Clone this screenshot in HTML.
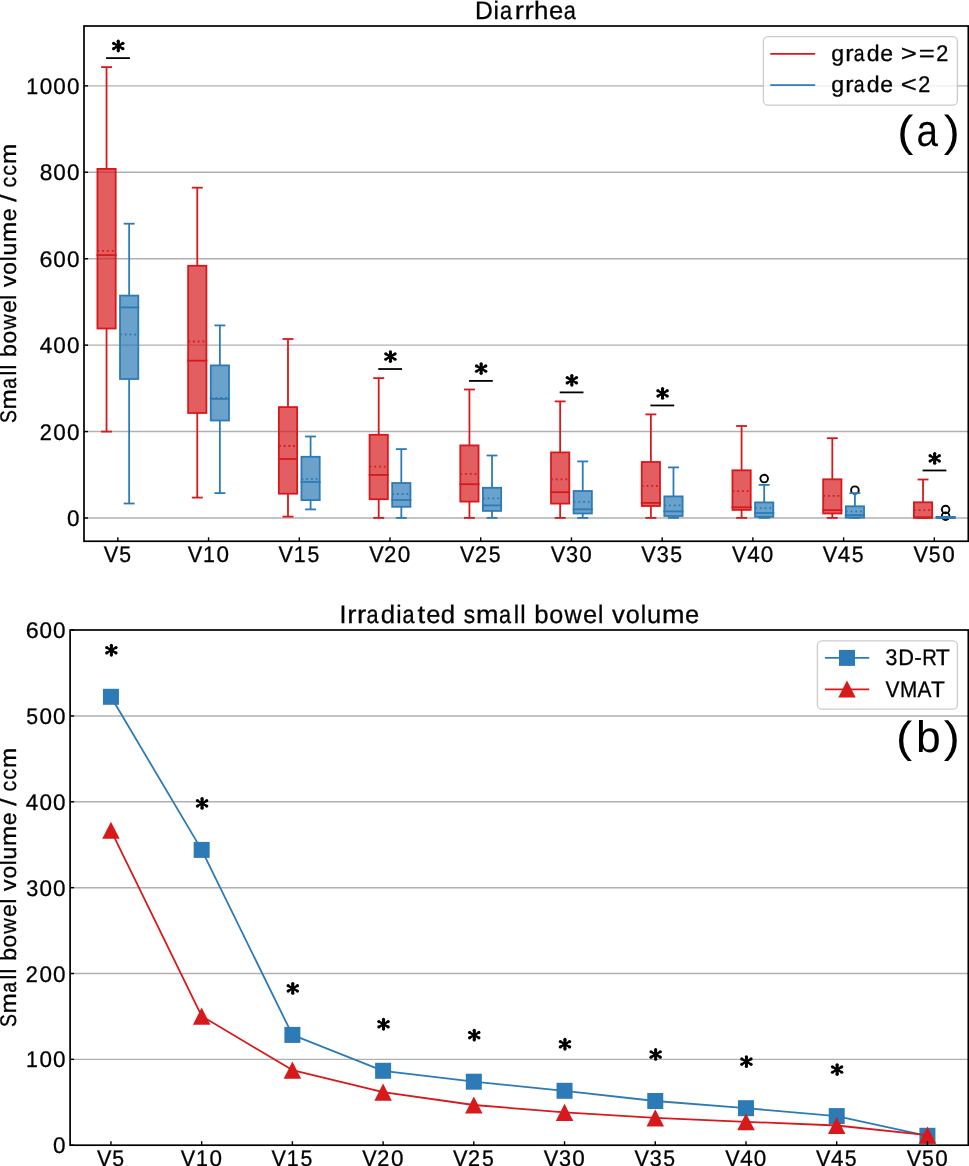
<!DOCTYPE html>
<html><head><meta charset="utf-8"><title>Small bowel volume</title>
<style>
html,body{margin:0;padding:0;background:#fff;}
svg{display:block;}
svg text{font-family:"Liberation Sans",sans-serif;fill:#000;stroke:#000;stroke-width:0.3px;text-rendering:geometricPrecision;}
svg{will-change:transform;}
svg text.big{stroke:none;}
</style></head>
<body>
<svg width="969" height="1166" viewBox="0 0 969 1166">
<rect width="969" height="1166" fill="#fff"/>
<line x1="84" y1="518" x2="968.3" y2="518" stroke="#b0b0b0" stroke-width="1.45"/>
<line x1="84" y1="431.57" x2="968.3" y2="431.57" stroke="#b0b0b0" stroke-width="1.45"/>
<line x1="84" y1="345.14" x2="968.3" y2="345.14" stroke="#b0b0b0" stroke-width="1.45"/>
<line x1="84" y1="258.71" x2="968.3" y2="258.71" stroke="#b0b0b0" stroke-width="1.45"/>
<line x1="84" y1="172.28" x2="968.3" y2="172.28" stroke="#b0b0b0" stroke-width="1.45"/>
<line x1="84" y1="85.85" x2="968.3" y2="85.85" stroke="#b0b0b0" stroke-width="1.45"/>
<rect x="97.42" y="168.9" width="18.26" height="159.6" fill="#d7191c" fill-opacity="0.7" stroke="#d7191c" stroke-width="1.8"/>
<line x1="106.55" y1="328.5" x2="106.55" y2="431.6" stroke="#d7191c" stroke-width="1.8"/>
<line x1="106.55" y1="168.9" x2="106.55" y2="67.1" stroke="#d7191c" stroke-width="1.8"/>
<line x1="101.98" y1="431.6" x2="111.12" y2="431.6" stroke="#d7191c" stroke-width="1.8" stroke-linecap="square"/>
<line x1="101.98" y1="67.1" x2="111.12" y2="67.1" stroke="#d7191c" stroke-width="1.8" stroke-linecap="square"/>
<line x1="97.42" y1="255.1" x2="115.68" y2="255.1" stroke="#d7191c" stroke-width="1.8" stroke-linecap="square"/>
<line x1="97.42" y1="250.8" x2="115.68" y2="250.8" stroke="#d7191c" stroke-width="1.8" stroke-dasharray="1.8 2.97"/>
<rect x="120.02" y="295.6" width="18.26" height="83.4" fill="#2c7bb6" fill-opacity="0.7" stroke="#2c7bb6" stroke-width="1.8"/>
<line x1="129.15" y1="379" x2="129.15" y2="503.5" stroke="#2c7bb6" stroke-width="1.8"/>
<line x1="129.15" y1="295.6" x2="129.15" y2="223.7" stroke="#2c7bb6" stroke-width="1.8"/>
<line x1="124.58" y1="503.5" x2="133.72" y2="503.5" stroke="#2c7bb6" stroke-width="1.8" stroke-linecap="square"/>
<line x1="124.58" y1="223.7" x2="133.72" y2="223.7" stroke="#2c7bb6" stroke-width="1.8" stroke-linecap="square"/>
<line x1="120.02" y1="307.4" x2="138.28" y2="307.4" stroke="#2c7bb6" stroke-width="1.8" stroke-linecap="square"/>
<line x1="120.02" y1="334.5" x2="138.28" y2="334.5" stroke="#2c7bb6" stroke-width="1.8" stroke-dasharray="1.8 2.97"/>
<rect x="188.14" y="265.8" width="18.26" height="147.2" fill="#d7191c" fill-opacity="0.7" stroke="#d7191c" stroke-width="1.8"/>
<line x1="197.27" y1="413" x2="197.27" y2="497.6" stroke="#d7191c" stroke-width="1.8"/>
<line x1="197.27" y1="265.8" x2="197.27" y2="187.7" stroke="#d7191c" stroke-width="1.8"/>
<line x1="192.7" y1="497.6" x2="201.84" y2="497.6" stroke="#d7191c" stroke-width="1.8" stroke-linecap="square"/>
<line x1="192.7" y1="187.7" x2="201.84" y2="187.7" stroke="#d7191c" stroke-width="1.8" stroke-linecap="square"/>
<line x1="188.14" y1="360.7" x2="206.4" y2="360.7" stroke="#d7191c" stroke-width="1.8" stroke-linecap="square"/>
<line x1="188.14" y1="341.5" x2="206.4" y2="341.5" stroke="#d7191c" stroke-width="1.8" stroke-dasharray="1.8 2.97"/>
<rect x="210.74" y="365.4" width="18.26" height="55.1" fill="#2c7bb6" fill-opacity="0.7" stroke="#2c7bb6" stroke-width="1.8"/>
<line x1="219.87" y1="420.5" x2="219.87" y2="493.1" stroke="#2c7bb6" stroke-width="1.8"/>
<line x1="219.87" y1="365.4" x2="219.87" y2="325.4" stroke="#2c7bb6" stroke-width="1.8"/>
<line x1="215.3" y1="493.1" x2="224.44" y2="493.1" stroke="#2c7bb6" stroke-width="1.8" stroke-linecap="square"/>
<line x1="215.3" y1="325.4" x2="224.44" y2="325.4" stroke="#2c7bb6" stroke-width="1.8" stroke-linecap="square"/>
<line x1="210.74" y1="398.9" x2="229" y2="398.9" stroke="#2c7bb6" stroke-width="1.8" stroke-linecap="square"/>
<line x1="210.74" y1="397.8" x2="229" y2="397.8" stroke="#2c7bb6" stroke-width="1.8" stroke-dasharray="1.8 2.97"/>
<rect x="278.86" y="407.1" width="18.26" height="86.6" fill="#d7191c" fill-opacity="0.7" stroke="#d7191c" stroke-width="1.8"/>
<line x1="287.99" y1="493.7" x2="287.99" y2="516.6" stroke="#d7191c" stroke-width="1.8"/>
<line x1="287.99" y1="407.1" x2="287.99" y2="339" stroke="#d7191c" stroke-width="1.8"/>
<line x1="283.42" y1="516.6" x2="292.56" y2="516.6" stroke="#d7191c" stroke-width="1.8" stroke-linecap="square"/>
<line x1="283.42" y1="339" x2="292.56" y2="339" stroke="#d7191c" stroke-width="1.8" stroke-linecap="square"/>
<line x1="278.86" y1="459" x2="297.12" y2="459" stroke="#d7191c" stroke-width="1.8" stroke-linecap="square"/>
<line x1="278.86" y1="446" x2="297.12" y2="446" stroke="#d7191c" stroke-width="1.8" stroke-dasharray="1.8 2.97"/>
<rect x="301.46" y="456.8" width="18.26" height="43.3" fill="#2c7bb6" fill-opacity="0.7" stroke="#2c7bb6" stroke-width="1.8"/>
<line x1="310.59" y1="500.1" x2="310.59" y2="509.4" stroke="#2c7bb6" stroke-width="1.8"/>
<line x1="310.59" y1="456.8" x2="310.59" y2="436.5" stroke="#2c7bb6" stroke-width="1.8"/>
<line x1="306.02" y1="509.4" x2="315.16" y2="509.4" stroke="#2c7bb6" stroke-width="1.8" stroke-linecap="square"/>
<line x1="306.02" y1="436.5" x2="315.16" y2="436.5" stroke="#2c7bb6" stroke-width="1.8" stroke-linecap="square"/>
<line x1="301.46" y1="482" x2="319.72" y2="482" stroke="#2c7bb6" stroke-width="1.8" stroke-linecap="square"/>
<line x1="301.46" y1="478.8" x2="319.72" y2="478.8" stroke="#2c7bb6" stroke-width="1.8" stroke-dasharray="1.8 2.97"/>
<rect x="369.58" y="434.8" width="18.26" height="64.4" fill="#d7191c" fill-opacity="0.7" stroke="#d7191c" stroke-width="1.8"/>
<line x1="378.71" y1="499.2" x2="378.71" y2="517.9" stroke="#d7191c" stroke-width="1.8"/>
<line x1="378.71" y1="434.8" x2="378.71" y2="378.1" stroke="#d7191c" stroke-width="1.8"/>
<line x1="374.14" y1="517.9" x2="383.28" y2="517.9" stroke="#d7191c" stroke-width="1.8" stroke-linecap="square"/>
<line x1="374.14" y1="378.1" x2="383.28" y2="378.1" stroke="#d7191c" stroke-width="1.8" stroke-linecap="square"/>
<line x1="369.58" y1="474.9" x2="387.84" y2="474.9" stroke="#d7191c" stroke-width="1.8" stroke-linecap="square"/>
<line x1="369.58" y1="466.7" x2="387.84" y2="466.7" stroke="#d7191c" stroke-width="1.8" stroke-dasharray="1.8 2.97"/>
<rect x="392.18" y="483" width="18.26" height="23.8" fill="#2c7bb6" fill-opacity="0.7" stroke="#2c7bb6" stroke-width="1.8"/>
<line x1="401.31" y1="506.8" x2="401.31" y2="517.9" stroke="#2c7bb6" stroke-width="1.8"/>
<line x1="401.31" y1="483" x2="401.31" y2="449.1" stroke="#2c7bb6" stroke-width="1.8"/>
<line x1="396.74" y1="517.9" x2="405.88" y2="517.9" stroke="#2c7bb6" stroke-width="1.8" stroke-linecap="square"/>
<line x1="396.74" y1="449.1" x2="405.88" y2="449.1" stroke="#2c7bb6" stroke-width="1.8" stroke-linecap="square"/>
<line x1="392.18" y1="500" x2="410.44" y2="500" stroke="#2c7bb6" stroke-width="1.8" stroke-linecap="square"/>
<line x1="392.18" y1="494" x2="410.44" y2="494" stroke="#2c7bb6" stroke-width="1.8" stroke-dasharray="1.8 2.97"/>
<rect x="460.3" y="445.4" width="18.26" height="56.2" fill="#d7191c" fill-opacity="0.7" stroke="#d7191c" stroke-width="1.8"/>
<line x1="469.43" y1="501.6" x2="469.43" y2="517.9" stroke="#d7191c" stroke-width="1.8"/>
<line x1="469.43" y1="445.4" x2="469.43" y2="389.5" stroke="#d7191c" stroke-width="1.8"/>
<line x1="464.86" y1="517.9" x2="474" y2="517.9" stroke="#d7191c" stroke-width="1.8" stroke-linecap="square"/>
<line x1="464.86" y1="389.5" x2="474" y2="389.5" stroke="#d7191c" stroke-width="1.8" stroke-linecap="square"/>
<line x1="460.3" y1="484.2" x2="478.56" y2="484.2" stroke="#d7191c" stroke-width="1.8" stroke-linecap="square"/>
<line x1="460.3" y1="473.9" x2="478.56" y2="473.9" stroke="#d7191c" stroke-width="1.8" stroke-dasharray="1.8 2.97"/>
<rect x="482.9" y="487.8" width="18.26" height="23.1" fill="#2c7bb6" fill-opacity="0.7" stroke="#2c7bb6" stroke-width="1.8"/>
<line x1="492.03" y1="510.9" x2="492.03" y2="517.9" stroke="#2c7bb6" stroke-width="1.8"/>
<line x1="492.03" y1="487.8" x2="492.03" y2="455.5" stroke="#2c7bb6" stroke-width="1.8"/>
<line x1="487.46" y1="517.9" x2="496.6" y2="517.9" stroke="#2c7bb6" stroke-width="1.8" stroke-linecap="square"/>
<line x1="487.46" y1="455.5" x2="496.6" y2="455.5" stroke="#2c7bb6" stroke-width="1.8" stroke-linecap="square"/>
<line x1="482.9" y1="505.4" x2="501.16" y2="505.4" stroke="#2c7bb6" stroke-width="1.8" stroke-linecap="square"/>
<line x1="482.9" y1="498.4" x2="501.16" y2="498.4" stroke="#2c7bb6" stroke-width="1.8" stroke-dasharray="1.8 2.97"/>
<rect x="551.02" y="452.4" width="18.26" height="51.2" fill="#d7191c" fill-opacity="0.7" stroke="#d7191c" stroke-width="1.8"/>
<line x1="560.15" y1="503.6" x2="560.15" y2="517.9" stroke="#d7191c" stroke-width="1.8"/>
<line x1="560.15" y1="452.4" x2="560.15" y2="401.4" stroke="#d7191c" stroke-width="1.8"/>
<line x1="555.58" y1="517.9" x2="564.72" y2="517.9" stroke="#d7191c" stroke-width="1.8" stroke-linecap="square"/>
<line x1="555.58" y1="401.4" x2="564.72" y2="401.4" stroke="#d7191c" stroke-width="1.8" stroke-linecap="square"/>
<line x1="551.02" y1="492.2" x2="569.28" y2="492.2" stroke="#d7191c" stroke-width="1.8" stroke-linecap="square"/>
<line x1="551.02" y1="479.3" x2="569.28" y2="479.3" stroke="#d7191c" stroke-width="1.8" stroke-dasharray="1.8 2.97"/>
<rect x="573.62" y="491" width="18.26" height="22.5" fill="#2c7bb6" fill-opacity="0.7" stroke="#2c7bb6" stroke-width="1.8"/>
<line x1="582.75" y1="513.5" x2="582.75" y2="517.9" stroke="#2c7bb6" stroke-width="1.8"/>
<line x1="582.75" y1="491" x2="582.75" y2="461.4" stroke="#2c7bb6" stroke-width="1.8"/>
<line x1="578.18" y1="517.9" x2="587.32" y2="517.9" stroke="#2c7bb6" stroke-width="1.8" stroke-linecap="square"/>
<line x1="578.18" y1="461.4" x2="587.32" y2="461.4" stroke="#2c7bb6" stroke-width="1.8" stroke-linecap="square"/>
<line x1="573.62" y1="509.3" x2="591.88" y2="509.3" stroke="#2c7bb6" stroke-width="1.8" stroke-linecap="square"/>
<line x1="573.62" y1="501.9" x2="591.88" y2="501.9" stroke="#2c7bb6" stroke-width="1.8" stroke-dasharray="1.8 2.97"/>
<rect x="641.74" y="462" width="18.26" height="44" fill="#d7191c" fill-opacity="0.7" stroke="#d7191c" stroke-width="1.8"/>
<line x1="650.87" y1="506" x2="650.87" y2="517.9" stroke="#d7191c" stroke-width="1.8"/>
<line x1="650.87" y1="462" x2="650.87" y2="414.4" stroke="#d7191c" stroke-width="1.8"/>
<line x1="646.3" y1="517.9" x2="655.44" y2="517.9" stroke="#d7191c" stroke-width="1.8" stroke-linecap="square"/>
<line x1="646.3" y1="414.4" x2="655.44" y2="414.4" stroke="#d7191c" stroke-width="1.8" stroke-linecap="square"/>
<line x1="641.74" y1="502.9" x2="660" y2="502.9" stroke="#d7191c" stroke-width="1.8" stroke-linecap="square"/>
<line x1="641.74" y1="485.8" x2="660" y2="485.8" stroke="#d7191c" stroke-width="1.8" stroke-dasharray="1.8 2.97"/>
<rect x="664.34" y="496.4" width="18.26" height="19.6" fill="#2c7bb6" fill-opacity="0.7" stroke="#2c7bb6" stroke-width="1.8"/>
<line x1="673.47" y1="516" x2="673.47" y2="517.9" stroke="#2c7bb6" stroke-width="1.8"/>
<line x1="673.47" y1="496.4" x2="673.47" y2="467.4" stroke="#2c7bb6" stroke-width="1.8"/>
<line x1="668.9" y1="517.9" x2="678.04" y2="517.9" stroke="#2c7bb6" stroke-width="1.8" stroke-linecap="square"/>
<line x1="668.9" y1="467.4" x2="678.04" y2="467.4" stroke="#2c7bb6" stroke-width="1.8" stroke-linecap="square"/>
<line x1="664.34" y1="511.4" x2="682.6" y2="511.4" stroke="#2c7bb6" stroke-width="1.8" stroke-linecap="square"/>
<line x1="664.34" y1="505.4" x2="682.6" y2="505.4" stroke="#2c7bb6" stroke-width="1.8" stroke-dasharray="1.8 2.97"/>
<rect x="732.46" y="470.3" width="18.26" height="39.6" fill="#d7191c" fill-opacity="0.7" stroke="#d7191c" stroke-width="1.8"/>
<line x1="741.59" y1="509.9" x2="741.59" y2="517.9" stroke="#d7191c" stroke-width="1.8"/>
<line x1="741.59" y1="470.3" x2="741.59" y2="426" stroke="#d7191c" stroke-width="1.8"/>
<line x1="737.02" y1="517.9" x2="746.16" y2="517.9" stroke="#d7191c" stroke-width="1.8" stroke-linecap="square"/>
<line x1="737.02" y1="426" x2="746.16" y2="426" stroke="#d7191c" stroke-width="1.8" stroke-linecap="square"/>
<line x1="732.46" y1="507.3" x2="750.72" y2="507.3" stroke="#d7191c" stroke-width="1.8" stroke-linecap="square"/>
<line x1="732.46" y1="491.1" x2="750.72" y2="491.1" stroke="#d7191c" stroke-width="1.8" stroke-dasharray="1.8 2.97"/>
<circle cx="764.19" cy="478.6" r="3.8" fill="none" stroke="#000" stroke-width="1.9"/>
<rect x="755.06" y="502.4" width="18.26" height="14.4" fill="#2c7bb6" fill-opacity="0.7" stroke="#2c7bb6" stroke-width="1.8"/>
<line x1="764.19" y1="516.8" x2="764.19" y2="517.9" stroke="#2c7bb6" stroke-width="1.8"/>
<line x1="764.19" y1="502.4" x2="764.19" y2="484.9" stroke="#2c7bb6" stroke-width="1.8"/>
<line x1="759.62" y1="517.9" x2="768.76" y2="517.9" stroke="#2c7bb6" stroke-width="1.8" stroke-linecap="square"/>
<line x1="759.62" y1="484.9" x2="768.76" y2="484.9" stroke="#2c7bb6" stroke-width="1.8" stroke-linecap="square"/>
<line x1="755.06" y1="513" x2="773.32" y2="513" stroke="#2c7bb6" stroke-width="1.8" stroke-linecap="square"/>
<line x1="755.06" y1="508.1" x2="773.32" y2="508.1" stroke="#2c7bb6" stroke-width="1.8" stroke-dasharray="1.8 2.97"/>
<rect x="823.18" y="479.3" width="18.26" height="34.2" fill="#d7191c" fill-opacity="0.7" stroke="#d7191c" stroke-width="1.8"/>
<line x1="832.31" y1="513.5" x2="832.31" y2="517.9" stroke="#d7191c" stroke-width="1.8"/>
<line x1="832.31" y1="479.3" x2="832.31" y2="438.2" stroke="#d7191c" stroke-width="1.8"/>
<line x1="827.74" y1="517.9" x2="836.88" y2="517.9" stroke="#d7191c" stroke-width="1.8" stroke-linecap="square"/>
<line x1="827.74" y1="438.2" x2="836.88" y2="438.2" stroke="#d7191c" stroke-width="1.8" stroke-linecap="square"/>
<line x1="823.18" y1="510.1" x2="841.44" y2="510.1" stroke="#d7191c" stroke-width="1.8" stroke-linecap="square"/>
<line x1="823.18" y1="495.8" x2="841.44" y2="495.8" stroke="#d7191c" stroke-width="1.8" stroke-dasharray="1.8 2.97"/>
<circle cx="854.91" cy="490.2" r="3.8" fill="none" stroke="#000" stroke-width="1.9"/>
<rect x="845.78" y="506.3" width="18.26" height="11.3" fill="#2c7bb6" fill-opacity="0.7" stroke="#2c7bb6" stroke-width="1.8"/>
<line x1="854.91" y1="517.6" x2="854.91" y2="517.9" stroke="#2c7bb6" stroke-width="1.8"/>
<line x1="854.91" y1="506.3" x2="854.91" y2="493.1" stroke="#2c7bb6" stroke-width="1.8"/>
<line x1="850.34" y1="517.9" x2="859.48" y2="517.9" stroke="#2c7bb6" stroke-width="1.8" stroke-linecap="square"/>
<line x1="850.34" y1="493.1" x2="859.48" y2="493.1" stroke="#2c7bb6" stroke-width="1.8" stroke-linecap="square"/>
<line x1="845.78" y1="515.1" x2="864.04" y2="515.1" stroke="#2c7bb6" stroke-width="1.8" stroke-linecap="square"/>
<line x1="845.78" y1="511.3" x2="864.04" y2="511.3" stroke="#2c7bb6" stroke-width="1.8" stroke-dasharray="1.8 2.97"/>
<rect x="913.9" y="502.3" width="18.26" height="15.6" fill="#d7191c" fill-opacity="0.7" stroke="#d7191c" stroke-width="1.8"/>
<line x1="923.03" y1="517.9" x2="923.03" y2="517.9" stroke="#d7191c" stroke-width="1.8"/>
<line x1="923.03" y1="502.3" x2="923.03" y2="479.5" stroke="#d7191c" stroke-width="1.8"/>
<line x1="918.46" y1="517.9" x2="927.6" y2="517.9" stroke="#d7191c" stroke-width="1.8" stroke-linecap="square"/>
<line x1="918.46" y1="479.5" x2="927.6" y2="479.5" stroke="#d7191c" stroke-width="1.8" stroke-linecap="square"/>
<line x1="913.9" y1="517.2" x2="932.16" y2="517.2" stroke="#d7191c" stroke-width="1.8" stroke-linecap="square"/>
<line x1="913.9" y1="510.2" x2="932.16" y2="510.2" stroke="#d7191c" stroke-width="1.8" stroke-dasharray="1.8 2.97"/>
<circle cx="945.63" cy="509.5" r="3.8" fill="none" stroke="#000" stroke-width="1.9"/>
<circle cx="945.63" cy="516.2" r="3.8" fill="none" stroke="#000" stroke-width="1.9"/>
<rect x="936.5" y="516.9" width="18.26" height="1" fill="#2c7bb6" fill-opacity="0.7" stroke="#2c7bb6" stroke-width="1.8"/>
<line x1="945.63" y1="517.9" x2="945.63" y2="517.9" stroke="#2c7bb6" stroke-width="1.8"/>
<line x1="945.63" y1="516.9" x2="945.63" y2="517.5" stroke="#2c7bb6" stroke-width="1.8"/>
<line x1="941.06" y1="517.9" x2="950.2" y2="517.9" stroke="#2c7bb6" stroke-width="1.8" stroke-linecap="square"/>
<line x1="941.06" y1="517.5" x2="950.2" y2="517.5" stroke="#2c7bb6" stroke-width="1.8" stroke-linecap="square"/>
<line x1="936.5" y1="517.7" x2="954.76" y2="517.7" stroke="#2c7bb6" stroke-width="1.8" stroke-linecap="square"/>
<line x1="936.5" y1="516.8" x2="954.76" y2="516.8" stroke="#2c7bb6" stroke-width="1.8" stroke-dasharray="1.8 2.97"/>
<line x1="107" y1="58.11" x2="129" y2="58.11" stroke="#000" stroke-width="1.8" stroke-linecap="square"/>
<path d="M118.25 41.18V50.78" stroke="#000" stroke-width="2.85" fill="none"/>
<path d="M118.25 41.18V50.78 M113.6 43.3L122.9 48.66 M113.6 48.66L122.9 43.3" stroke="#000" stroke-width="2.4" fill="none"/>
<circle cx="113.6" cy="43.3" r="1.6"/>
<circle cx="122.9" cy="43.3" r="1.6"/>
<circle cx="113.6" cy="48.66" r="1.6"/>
<circle cx="122.9" cy="48.66" r="1.6"/>
<circle cx="118.25" cy="41.18" r="1.6"/>
<circle cx="118.25" cy="50.78" r="1.6"/>
<line x1="379.16" y1="369.03" x2="401.16" y2="369.03" stroke="#000" stroke-width="1.8" stroke-linecap="square"/>
<path d="M390.41 351.75V361.35" stroke="#000" stroke-width="2.85" fill="none"/>
<path d="M390.41 351.75V361.35 M385.76 353.87L395.06 359.23 M385.76 359.23L395.06 353.87" stroke="#000" stroke-width="2.4" fill="none"/>
<circle cx="385.76" cy="353.87" r="1.6"/>
<circle cx="395.06" cy="353.87" r="1.6"/>
<circle cx="385.76" cy="359.23" r="1.6"/>
<circle cx="395.06" cy="359.23" r="1.6"/>
<circle cx="390.41" cy="351.75" r="1.6"/>
<circle cx="390.41" cy="361.35" r="1.6"/>
<line x1="469.88" y1="380.9" x2="491.88" y2="380.9" stroke="#000" stroke-width="1.8" stroke-linecap="square"/>
<path d="M481.13 363.76V373.36" stroke="#000" stroke-width="2.85" fill="none"/>
<path d="M481.13 363.76V373.36 M476.48 365.88L485.78 371.24 M476.48 371.24L485.78 365.88" stroke="#000" stroke-width="2.4" fill="none"/>
<circle cx="476.48" cy="365.88" r="1.6"/>
<circle cx="485.78" cy="365.88" r="1.6"/>
<circle cx="476.48" cy="371.24" r="1.6"/>
<circle cx="485.78" cy="371.24" r="1.6"/>
<circle cx="481.13" cy="363.76" r="1.6"/>
<circle cx="481.13" cy="373.36" r="1.6"/>
<line x1="560.6" y1="392.39" x2="582.6" y2="392.39" stroke="#000" stroke-width="1.8" stroke-linecap="square"/>
<path d="M571.85 375.49V385.09" stroke="#000" stroke-width="2.85" fill="none"/>
<path d="M571.85 375.49V385.09 M567.2 377.61L576.5 382.97 M567.2 382.97L576.5 377.61" stroke="#000" stroke-width="2.4" fill="none"/>
<circle cx="567.2" cy="377.61" r="1.6"/>
<circle cx="576.5" cy="377.61" r="1.6"/>
<circle cx="567.2" cy="382.97" r="1.6"/>
<circle cx="576.5" cy="382.97" r="1.6"/>
<circle cx="571.85" cy="375.49" r="1.6"/>
<circle cx="571.85" cy="385.09" r="1.6"/>
<line x1="651.32" y1="405.46" x2="673.32" y2="405.46" stroke="#000" stroke-width="1.8" stroke-linecap="square"/>
<path d="M662.57 388.58V398.18" stroke="#000" stroke-width="2.85" fill="none"/>
<path d="M662.57 388.58V398.18 M657.92 390.7L667.22 396.06 M657.92 396.06L667.22 390.7" stroke="#000" stroke-width="2.4" fill="none"/>
<circle cx="657.92" cy="390.7" r="1.6"/>
<circle cx="667.22" cy="390.7" r="1.6"/>
<circle cx="657.92" cy="396.06" r="1.6"/>
<circle cx="667.22" cy="396.06" r="1.6"/>
<circle cx="662.57" cy="388.58" r="1.6"/>
<circle cx="662.57" cy="398.18" r="1.6"/>
<line x1="923.48" y1="470.46" x2="945.48" y2="470.46" stroke="#000" stroke-width="1.8" stroke-linecap="square"/>
<path d="M934.73 453.58V463.18" stroke="#000" stroke-width="2.85" fill="none"/>
<path d="M934.73 453.58V463.18 M930.08 455.7L939.38 461.06 M930.08 461.06L939.38 455.7" stroke="#000" stroke-width="2.4" fill="none"/>
<circle cx="930.08" cy="455.7" r="1.6"/>
<circle cx="939.38" cy="455.7" r="1.6"/>
<circle cx="930.08" cy="461.06" r="1.6"/>
<circle cx="939.38" cy="461.06" r="1.6"/>
<circle cx="934.73" cy="453.58" r="1.6"/>
<circle cx="934.73" cy="463.18" r="1.6"/>
<rect x="84" y="26" width="884.3" height="515.25" fill="none" stroke="#000" stroke-width="1.7"/>
<line x1="84" y1="518" x2="88" y2="518" stroke="#000" stroke-width="1.4"/>
<text y="526.07" font-size="22.61"><tspan x="66.91" textLength="12.5" lengthAdjust="spacingAndGlyphs">0</tspan></text>
<line x1="84" y1="431.57" x2="88" y2="431.57" stroke="#000" stroke-width="1.4"/>
<text y="439.64" font-size="22.61"><tspan x="39.71" textLength="12.05" lengthAdjust="spacingAndGlyphs">2</tspan><tspan x="53.34" textLength="12.5" lengthAdjust="spacingAndGlyphs">0</tspan><tspan x="66.91" textLength="12.5" lengthAdjust="spacingAndGlyphs">0</tspan></text>
<line x1="84" y1="345.14" x2="88" y2="345.14" stroke="#000" stroke-width="1.4"/>
<text y="353.21" font-size="22.61"><tspan x="39.76" textLength="12.51" lengthAdjust="spacingAndGlyphs">4</tspan><tspan x="53.34" textLength="12.5" lengthAdjust="spacingAndGlyphs">0</tspan><tspan x="66.91" textLength="12.5" lengthAdjust="spacingAndGlyphs">0</tspan></text>
<line x1="84" y1="258.71" x2="88" y2="258.71" stroke="#000" stroke-width="1.4"/>
<text y="266.78" font-size="22.61"><tspan x="39.55" textLength="12.94" lengthAdjust="spacingAndGlyphs">6</tspan><tspan x="53.34" textLength="12.5" lengthAdjust="spacingAndGlyphs">0</tspan><tspan x="66.91" textLength="12.5" lengthAdjust="spacingAndGlyphs">0</tspan></text>
<line x1="84" y1="172.28" x2="88" y2="172.28" stroke="#000" stroke-width="1.4"/>
<text y="180.35" font-size="22.61"><tspan x="39.7" textLength="12.64" lengthAdjust="spacingAndGlyphs">8</tspan><tspan x="53.34" textLength="12.5" lengthAdjust="spacingAndGlyphs">0</tspan><tspan x="66.91" textLength="12.5" lengthAdjust="spacingAndGlyphs">0</tspan></text>
<line x1="84" y1="85.85" x2="88" y2="85.85" stroke="#000" stroke-width="1.4"/>
<text y="93.92" font-size="22.61"><tspan x="26.37" textLength="11.94" lengthAdjust="spacingAndGlyphs">1</tspan><tspan x="39.77" textLength="12.5" lengthAdjust="spacingAndGlyphs">0</tspan><tspan x="53.34" textLength="12.5" lengthAdjust="spacingAndGlyphs">0</tspan><tspan x="66.91" textLength="12.5" lengthAdjust="spacingAndGlyphs">0</tspan></text>
<line x1="117.85" y1="541.25" x2="117.85" y2="537.25" stroke="#000" stroke-width="1.4"/>
<text y="561.95" font-size="22.61"><tspan x="103.84" textLength="14.44" lengthAdjust="spacingAndGlyphs">V</tspan><tspan x="119.16" textLength="11.8" lengthAdjust="spacingAndGlyphs">5</tspan></text>
<line x1="208.57" y1="541.25" x2="208.57" y2="537.25" stroke="#000" stroke-width="1.4"/>
<text y="561.95" font-size="22.61"><tspan x="187.77" textLength="14.44" lengthAdjust="spacingAndGlyphs">V</tspan><tspan x="203" textLength="11.94" lengthAdjust="spacingAndGlyphs">1</tspan><tspan x="216.39" textLength="12.5" lengthAdjust="spacingAndGlyphs">0</tspan></text>
<line x1="299.29" y1="541.25" x2="299.29" y2="537.25" stroke="#000" stroke-width="1.4"/>
<text y="561.95" font-size="22.61"><tspan x="278.49" textLength="14.44" lengthAdjust="spacingAndGlyphs">V</tspan><tspan x="293.72" textLength="11.94" lengthAdjust="spacingAndGlyphs">1</tspan><tspan x="307.38" textLength="11.8" lengthAdjust="spacingAndGlyphs">5</tspan></text>
<line x1="390.01" y1="541.25" x2="390.01" y2="537.25" stroke="#000" stroke-width="1.4"/>
<text y="561.95" font-size="22.61"><tspan x="369.21" textLength="14.44" lengthAdjust="spacingAndGlyphs">V</tspan><tspan x="384.21" textLength="12.05" lengthAdjust="spacingAndGlyphs">2</tspan><tspan x="397.83" textLength="12.5" lengthAdjust="spacingAndGlyphs">0</tspan></text>
<line x1="480.73" y1="541.25" x2="480.73" y2="537.25" stroke="#000" stroke-width="1.4"/>
<text y="561.95" font-size="22.61"><tspan x="459.93" textLength="14.44" lengthAdjust="spacingAndGlyphs">V</tspan><tspan x="474.93" textLength="12.05" lengthAdjust="spacingAndGlyphs">2</tspan><tspan x="488.82" textLength="11.8" lengthAdjust="spacingAndGlyphs">5</tspan></text>
<line x1="571.45" y1="541.25" x2="571.45" y2="537.25" stroke="#000" stroke-width="1.4"/>
<text y="561.95" font-size="22.61"><tspan x="550.65" textLength="14.44" lengthAdjust="spacingAndGlyphs">V</tspan><tspan x="565.98" textLength="12.01" lengthAdjust="spacingAndGlyphs">3</tspan><tspan x="579.27" textLength="12.5" lengthAdjust="spacingAndGlyphs">0</tspan></text>
<line x1="662.17" y1="541.25" x2="662.17" y2="537.25" stroke="#000" stroke-width="1.4"/>
<text y="561.95" font-size="22.61"><tspan x="641.37" textLength="14.44" lengthAdjust="spacingAndGlyphs">V</tspan><tspan x="656.7" textLength="12.01" lengthAdjust="spacingAndGlyphs">3</tspan><tspan x="670.26" textLength="11.8" lengthAdjust="spacingAndGlyphs">5</tspan></text>
<line x1="752.89" y1="541.25" x2="752.89" y2="537.25" stroke="#000" stroke-width="1.4"/>
<text y="561.95" font-size="22.61"><tspan x="732.09" textLength="14.44" lengthAdjust="spacingAndGlyphs">V</tspan><tspan x="747.14" textLength="12.51" lengthAdjust="spacingAndGlyphs">4</tspan><tspan x="760.71" textLength="12.5" lengthAdjust="spacingAndGlyphs">0</tspan></text>
<line x1="843.61" y1="541.25" x2="843.61" y2="537.25" stroke="#000" stroke-width="1.4"/>
<text y="561.95" font-size="22.61"><tspan x="822.81" textLength="14.44" lengthAdjust="spacingAndGlyphs">V</tspan><tspan x="837.86" textLength="12.51" lengthAdjust="spacingAndGlyphs">4</tspan><tspan x="851.7" textLength="11.8" lengthAdjust="spacingAndGlyphs">5</tspan></text>
<line x1="934.33" y1="541.25" x2="934.33" y2="537.25" stroke="#000" stroke-width="1.4"/>
<text y="561.95" font-size="22.61"><tspan x="913.53" textLength="14.44" lengthAdjust="spacingAndGlyphs">V</tspan><tspan x="928.85" textLength="11.8" lengthAdjust="spacingAndGlyphs">5</tspan><tspan x="942.15" textLength="12.5" lengthAdjust="spacingAndGlyphs">0</tspan></text>
<text y="18.8" font-size="25.23"><tspan x="474.91" textLength="17.78" lengthAdjust="spacingAndGlyphs">D</tspan><tspan x="493.54" textLength="5.41" lengthAdjust="spacingAndGlyphs">i</tspan><tspan x="499.97" textLength="12.07" lengthAdjust="spacingAndGlyphs">a</tspan><tspan x="514.78" textLength="9.24" lengthAdjust="spacingAndGlyphs">r</tspan><tspan x="524.57" textLength="9.24" lengthAdjust="spacingAndGlyphs">r</tspan><tspan x="534.06" textLength="14.37" lengthAdjust="spacingAndGlyphs">h</tspan><tspan x="549" textLength="14.3" lengthAdjust="spacingAndGlyphs">e</tspan><tspan x="563.85" textLength="12.07" lengthAdjust="spacingAndGlyphs">a</tspan></text>
<rect x="763.4" y="36.6" width="194.0" height="68.6" rx="4.5" fill="#fff" fill-opacity="0.8" stroke="#c4c4c4" stroke-opacity="0.85" stroke-width="1.3"/>
<line x1="770.3" y1="53.9" x2="815.2" y2="53.9" stroke="#d7191c" stroke-width="1.8"/>
<line x1="770.3" y1="85.2" x2="815.2" y2="85.2" stroke="#2c7bb6" stroke-width="1.8"/>
<text y="60.8" font-size="22.61"><tspan x="831.33" textLength="12.89" lengthAdjust="spacingAndGlyphs">g</tspan><tspan x="845.26" textLength="8.28" lengthAdjust="spacingAndGlyphs">r</tspan><tspan x="853.82" textLength="10.81" lengthAdjust="spacingAndGlyphs">a</tspan><tspan x="866.71" textLength="12.89" lengthAdjust="spacingAndGlyphs">d</tspan><tspan x="880.24" textLength="12.81" lengthAdjust="spacingAndGlyphs">e</tspan><tspan x="893.17"> </tspan><tspan x="900.85" textLength="16.05" lengthAdjust="spacingAndGlyphs">&gt;</tspan><tspan x="918.74" textLength="16.05" lengthAdjust="spacingAndGlyphs">=</tspan><tspan x="936.16" textLength="12.05" lengthAdjust="spacingAndGlyphs">2</tspan></text>
<text y="92.3" font-size="22.61"><tspan x="831.33" textLength="12.89" lengthAdjust="spacingAndGlyphs">g</tspan><tspan x="845.26" textLength="8.28" lengthAdjust="spacingAndGlyphs">r</tspan><tspan x="853.82" textLength="10.81" lengthAdjust="spacingAndGlyphs">a</tspan><tspan x="866.71" textLength="12.89" lengthAdjust="spacingAndGlyphs">d</tspan><tspan x="880.24" textLength="12.81" lengthAdjust="spacingAndGlyphs">e</tspan><tspan x="893.17"> </tspan><tspan x="900.85" textLength="16.05" lengthAdjust="spacingAndGlyphs">&lt;</tspan><tspan x="918.29" textLength="12.05" lengthAdjust="spacingAndGlyphs">2</tspan></text>
<text class="big"><tspan x="897.22" y="145.59" font-size="43.55" textLength="16.18" lengthAdjust="spacingAndGlyphs">(</tspan><tspan x="916.5" y="146.33" font-size="45.07" textLength="21.42" lengthAdjust="spacingAndGlyphs">a</tspan><tspan x="943.68" y="145.59" font-size="43.55" textLength="16" lengthAdjust="spacingAndGlyphs">)</tspan></text>
<text transform="translate(16.2 0) rotate(-90)" y="0" font-size="22.61"><tspan x="-422.96" textLength="12.97" lengthAdjust="spacingAndGlyphs">S</tspan><tspan x="-409.5" textLength="20.24" lengthAdjust="spacingAndGlyphs">m</tspan><tspan x="-388.66" textLength="10.81" lengthAdjust="spacingAndGlyphs">a</tspan><tspan x="-375.43" textLength="4.84" lengthAdjust="spacingAndGlyphs">l</tspan><tspan x="-369.51" textLength="4.84" lengthAdjust="spacingAndGlyphs">l</tspan><tspan x="-364.12"> </tspan><tspan x="-356.9" textLength="12.91" lengthAdjust="spacingAndGlyphs">b</tspan><tspan x="-343.58" textLength="12.61" lengthAdjust="spacingAndGlyphs">o</tspan><tspan x="-329.83" textLength="15.57" lengthAdjust="spacingAndGlyphs">w</tspan><tspan x="-313.11" textLength="12.81" lengthAdjust="spacingAndGlyphs">e</tspan><tspan x="-299.64" textLength="4.84" lengthAdjust="spacingAndGlyphs">l</tspan><tspan x="-294.26"> </tspan><tspan x="-286.92" textLength="11.51" lengthAdjust="spacingAndGlyphs">v</tspan><tspan x="-274.63" textLength="12.61" lengthAdjust="spacingAndGlyphs">o</tspan><tspan x="-261.26" textLength="4.84" lengthAdjust="spacingAndGlyphs">l</tspan><tspan x="-255.56" textLength="12.79" lengthAdjust="spacingAndGlyphs">u</tspan><tspan x="-242.04" textLength="20.24" lengthAdjust="spacingAndGlyphs">m</tspan><tspan x="-221.38" textLength="12.81" lengthAdjust="spacingAndGlyphs">e</tspan><tspan x="-208.46"> </tspan><tspan x="-201.68" textLength="7.19" lengthAdjust="spacingAndGlyphs">/</tspan><tspan x="-194.49"> </tspan><tspan x="-187.45" textLength="10.7" lengthAdjust="spacingAndGlyphs">c</tspan><tspan x="-175.72" textLength="10.7" lengthAdjust="spacingAndGlyphs">c</tspan><tspan x="-163.93" textLength="20.24" lengthAdjust="spacingAndGlyphs">m</tspan></text>
<line x1="70.1" y1="1059.35" x2="968.3" y2="1059.35" stroke="#b0b0b0" stroke-width="1.45"/>
<line x1="70.1" y1="973.5" x2="968.3" y2="973.5" stroke="#b0b0b0" stroke-width="1.45"/>
<line x1="70.1" y1="887.65" x2="968.3" y2="887.65" stroke="#b0b0b0" stroke-width="1.45"/>
<line x1="70.1" y1="801.8" x2="968.3" y2="801.8" stroke="#b0b0b0" stroke-width="1.45"/>
<line x1="70.1" y1="715.95" x2="968.3" y2="715.95" stroke="#b0b0b0" stroke-width="1.45"/>
<polyline points="110.95,696.8 201.67,849.9 292.39,1034.9 383.11,1070.8 473.83,1081.7 564.55,1090.8 655.27,1101 745.99,1108.2 836.71,1116.1 927.43,1135.8" fill="none" stroke="#2c7bb6" stroke-width="1.8" stroke-linejoin="round"/>
<rect x="102.95" y="688.8" width="16" height="16" fill="#2c7bb6"/>
<rect x="193.67" y="841.9" width="16" height="16" fill="#2c7bb6"/>
<rect x="284.39" y="1026.9" width="16" height="16" fill="#2c7bb6"/>
<rect x="375.11" y="1062.8" width="16" height="16" fill="#2c7bb6"/>
<rect x="465.83" y="1073.7" width="16" height="16" fill="#2c7bb6"/>
<rect x="556.55" y="1082.8" width="16" height="16" fill="#2c7bb6"/>
<rect x="647.27" y="1093" width="16" height="16" fill="#2c7bb6"/>
<rect x="737.99" y="1100.2" width="16" height="16" fill="#2c7bb6"/>
<rect x="828.71" y="1108.1" width="16" height="16" fill="#2c7bb6"/>
<rect x="919.43" y="1127.8" width="16" height="16" fill="#2c7bb6"/>
<polyline points="110.95,830.3 201.67,1016.1 292.39,1070.1 383.11,1092.1 473.83,1105 564.55,1112.4 655.27,1117.9 745.99,1121.8 836.71,1125.5 927.43,1135.1" fill="none" stroke="#d7191c" stroke-width="1.8" stroke-linejoin="round"/>
<path d="M110.95 821.75L119.7 838.85L102.2 838.85Z" fill="#d7191c"/>
<path d="M201.67 1007.55L210.42 1024.65L192.92 1024.65Z" fill="#d7191c"/>
<path d="M292.39 1061.55L301.14 1078.65L283.64 1078.65Z" fill="#d7191c"/>
<path d="M383.11 1083.55L391.86 1100.65L374.36 1100.65Z" fill="#d7191c"/>
<path d="M473.83 1096.45L482.58 1113.55L465.08 1113.55Z" fill="#d7191c"/>
<path d="M564.55 1103.85L573.3 1120.95L555.8 1120.95Z" fill="#d7191c"/>
<path d="M655.27 1109.35L664.02 1126.45L646.52 1126.45Z" fill="#d7191c"/>
<path d="M745.99 1113.25L754.74 1130.35L737.24 1130.35Z" fill="#d7191c"/>
<path d="M836.71 1116.95L845.46 1134.05L827.96 1134.05Z" fill="#d7191c"/>
<path d="M927.43 1126.55L936.18 1143.65L918.68 1143.65Z" fill="#d7191c"/>
<path d="M111.35 645.45V655.05" stroke="#000" stroke-width="2.85" fill="none"/>
<path d="M111.35 645.45V655.05 M106.7 647.57L116 652.93 M106.7 652.93L116 647.57" stroke="#000" stroke-width="2.4" fill="none"/>
<circle cx="106.7" cy="647.57" r="1.6"/>
<circle cx="116" cy="647.57" r="1.6"/>
<circle cx="106.7" cy="652.93" r="1.6"/>
<circle cx="116" cy="652.93" r="1.6"/>
<circle cx="111.35" cy="645.45" r="1.6"/>
<circle cx="111.35" cy="655.05" r="1.6"/>
<path d="M202.07 798.55V808.15" stroke="#000" stroke-width="2.85" fill="none"/>
<path d="M202.07 798.55V808.15 M197.42 800.67L206.72 806.03 M197.42 806.03L206.72 800.67" stroke="#000" stroke-width="2.4" fill="none"/>
<circle cx="197.42" cy="800.67" r="1.6"/>
<circle cx="206.72" cy="800.67" r="1.6"/>
<circle cx="197.42" cy="806.03" r="1.6"/>
<circle cx="206.72" cy="806.03" r="1.6"/>
<circle cx="202.07" cy="798.55" r="1.6"/>
<circle cx="202.07" cy="808.15" r="1.6"/>
<path d="M292.79 983.55V993.15" stroke="#000" stroke-width="2.85" fill="none"/>
<path d="M292.79 983.55V993.15 M288.14 985.67L297.44 991.03 M288.14 991.03L297.44 985.67" stroke="#000" stroke-width="2.4" fill="none"/>
<circle cx="288.14" cy="985.67" r="1.6"/>
<circle cx="297.44" cy="985.67" r="1.6"/>
<circle cx="288.14" cy="991.03" r="1.6"/>
<circle cx="297.44" cy="991.03" r="1.6"/>
<circle cx="292.79" cy="983.55" r="1.6"/>
<circle cx="292.79" cy="993.15" r="1.6"/>
<path d="M383.51 1019.45V1029.05" stroke="#000" stroke-width="2.85" fill="none"/>
<path d="M383.51 1019.45V1029.05 M378.86 1021.57L388.16 1026.93 M378.86 1026.93L388.16 1021.57" stroke="#000" stroke-width="2.4" fill="none"/>
<circle cx="378.86" cy="1021.57" r="1.6"/>
<circle cx="388.16" cy="1021.57" r="1.6"/>
<circle cx="378.86" cy="1026.93" r="1.6"/>
<circle cx="388.16" cy="1026.93" r="1.6"/>
<circle cx="383.51" cy="1019.45" r="1.6"/>
<circle cx="383.51" cy="1029.05" r="1.6"/>
<path d="M474.23 1030.35V1039.95" stroke="#000" stroke-width="2.85" fill="none"/>
<path d="M474.23 1030.35V1039.95 M469.58 1032.47L478.88 1037.83 M469.58 1037.83L478.88 1032.47" stroke="#000" stroke-width="2.4" fill="none"/>
<circle cx="469.58" cy="1032.47" r="1.6"/>
<circle cx="478.88" cy="1032.47" r="1.6"/>
<circle cx="469.58" cy="1037.83" r="1.6"/>
<circle cx="478.88" cy="1037.83" r="1.6"/>
<circle cx="474.23" cy="1030.35" r="1.6"/>
<circle cx="474.23" cy="1039.95" r="1.6"/>
<path d="M564.95 1039.45V1049.05" stroke="#000" stroke-width="2.85" fill="none"/>
<path d="M564.95 1039.45V1049.05 M560.3 1041.57L569.6 1046.93 M560.3 1046.93L569.6 1041.57" stroke="#000" stroke-width="2.4" fill="none"/>
<circle cx="560.3" cy="1041.57" r="1.6"/>
<circle cx="569.6" cy="1041.57" r="1.6"/>
<circle cx="560.3" cy="1046.93" r="1.6"/>
<circle cx="569.6" cy="1046.93" r="1.6"/>
<circle cx="564.95" cy="1039.45" r="1.6"/>
<circle cx="564.95" cy="1049.05" r="1.6"/>
<path d="M655.67 1049.65V1059.25" stroke="#000" stroke-width="2.85" fill="none"/>
<path d="M655.67 1049.65V1059.25 M651.02 1051.77L660.32 1057.13 M651.02 1057.13L660.32 1051.77" stroke="#000" stroke-width="2.4" fill="none"/>
<circle cx="651.02" cy="1051.77" r="1.6"/>
<circle cx="660.32" cy="1051.77" r="1.6"/>
<circle cx="651.02" cy="1057.13" r="1.6"/>
<circle cx="660.32" cy="1057.13" r="1.6"/>
<circle cx="655.67" cy="1049.65" r="1.6"/>
<circle cx="655.67" cy="1059.25" r="1.6"/>
<path d="M746.39 1056.85V1066.45" stroke="#000" stroke-width="2.85" fill="none"/>
<path d="M746.39 1056.85V1066.45 M741.74 1058.97L751.04 1064.33 M741.74 1064.33L751.04 1058.97" stroke="#000" stroke-width="2.4" fill="none"/>
<circle cx="741.74" cy="1058.97" r="1.6"/>
<circle cx="751.04" cy="1058.97" r="1.6"/>
<circle cx="741.74" cy="1064.33" r="1.6"/>
<circle cx="751.04" cy="1064.33" r="1.6"/>
<circle cx="746.39" cy="1056.85" r="1.6"/>
<circle cx="746.39" cy="1066.45" r="1.6"/>
<path d="M837.11 1064.75V1074.35" stroke="#000" stroke-width="2.85" fill="none"/>
<path d="M837.11 1064.75V1074.35 M832.46 1066.87L841.76 1072.23 M832.46 1072.23L841.76 1066.87" stroke="#000" stroke-width="2.4" fill="none"/>
<circle cx="832.46" cy="1066.87" r="1.6"/>
<circle cx="841.76" cy="1066.87" r="1.6"/>
<circle cx="832.46" cy="1072.23" r="1.6"/>
<circle cx="841.76" cy="1072.23" r="1.6"/>
<circle cx="837.11" cy="1064.75" r="1.6"/>
<circle cx="837.11" cy="1074.35" r="1.6"/>
<rect x="70.1" y="630" width="898.2" height="515.2" fill="none" stroke="#000" stroke-width="1.7"/>
<line x1="70.1" y1="1145.2" x2="74.1" y2="1145.2" stroke="#000" stroke-width="1.4"/>
<text y="1153.27" font-size="22.61"><tspan x="53.01" textLength="12.5" lengthAdjust="spacingAndGlyphs">0</tspan></text>
<line x1="70.1" y1="1059.35" x2="74.1" y2="1059.35" stroke="#000" stroke-width="1.4"/>
<text y="1067.42" font-size="22.61"><tspan x="26.05" textLength="11.94" lengthAdjust="spacingAndGlyphs">1</tspan><tspan x="39.44" textLength="12.5" lengthAdjust="spacingAndGlyphs">0</tspan><tspan x="53.01" textLength="12.5" lengthAdjust="spacingAndGlyphs">0</tspan></text>
<line x1="70.1" y1="973.5" x2="74.1" y2="973.5" stroke="#000" stroke-width="1.4"/>
<text y="981.57" font-size="22.61"><tspan x="25.81" textLength="12.05" lengthAdjust="spacingAndGlyphs">2</tspan><tspan x="39.44" textLength="12.5" lengthAdjust="spacingAndGlyphs">0</tspan><tspan x="53.01" textLength="12.5" lengthAdjust="spacingAndGlyphs">0</tspan></text>
<line x1="70.1" y1="887.65" x2="74.1" y2="887.65" stroke="#000" stroke-width="1.4"/>
<text y="895.72" font-size="22.61"><tspan x="26.14" textLength="12.01" lengthAdjust="spacingAndGlyphs">3</tspan><tspan x="39.44" textLength="12.5" lengthAdjust="spacingAndGlyphs">0</tspan><tspan x="53.01" textLength="12.5" lengthAdjust="spacingAndGlyphs">0</tspan></text>
<line x1="70.1" y1="801.8" x2="74.1" y2="801.8" stroke="#000" stroke-width="1.4"/>
<text y="809.87" font-size="22.61"><tspan x="25.86" textLength="12.51" lengthAdjust="spacingAndGlyphs">4</tspan><tspan x="39.44" textLength="12.5" lengthAdjust="spacingAndGlyphs">0</tspan><tspan x="53.01" textLength="12.5" lengthAdjust="spacingAndGlyphs">0</tspan></text>
<line x1="70.1" y1="715.95" x2="74.1" y2="715.95" stroke="#000" stroke-width="1.4"/>
<text y="724.02" font-size="22.61"><tspan x="26.13" textLength="11.8" lengthAdjust="spacingAndGlyphs">5</tspan><tspan x="39.44" textLength="12.5" lengthAdjust="spacingAndGlyphs">0</tspan><tspan x="53.01" textLength="12.5" lengthAdjust="spacingAndGlyphs">0</tspan></text>
<line x1="70.1" y1="630.1" x2="74.1" y2="630.1" stroke="#000" stroke-width="1.4"/>
<text y="638.17" font-size="22.61"><tspan x="25.65" textLength="12.94" lengthAdjust="spacingAndGlyphs">6</tspan><tspan x="39.44" textLength="12.5" lengthAdjust="spacingAndGlyphs">0</tspan><tspan x="53.01" textLength="12.5" lengthAdjust="spacingAndGlyphs">0</tspan></text>
<line x1="110.95" y1="1145.2" x2="110.95" y2="1141.2" stroke="#000" stroke-width="1.4"/>
<text y="1165.9" font-size="22.61"><tspan x="96.94" textLength="14.44" lengthAdjust="spacingAndGlyphs">V</tspan><tspan x="112.26" textLength="11.8" lengthAdjust="spacingAndGlyphs">5</tspan></text>
<line x1="201.67" y1="1145.2" x2="201.67" y2="1141.2" stroke="#000" stroke-width="1.4"/>
<text y="1165.9" font-size="22.61"><tspan x="180.87" textLength="14.44" lengthAdjust="spacingAndGlyphs">V</tspan><tspan x="196.1" textLength="11.94" lengthAdjust="spacingAndGlyphs">1</tspan><tspan x="209.49" textLength="12.5" lengthAdjust="spacingAndGlyphs">0</tspan></text>
<line x1="292.39" y1="1145.2" x2="292.39" y2="1141.2" stroke="#000" stroke-width="1.4"/>
<text y="1165.9" font-size="22.61"><tspan x="271.59" textLength="14.44" lengthAdjust="spacingAndGlyphs">V</tspan><tspan x="286.82" textLength="11.94" lengthAdjust="spacingAndGlyphs">1</tspan><tspan x="300.48" textLength="11.8" lengthAdjust="spacingAndGlyphs">5</tspan></text>
<line x1="383.11" y1="1145.2" x2="383.11" y2="1141.2" stroke="#000" stroke-width="1.4"/>
<text y="1165.9" font-size="22.61"><tspan x="362.31" textLength="14.44" lengthAdjust="spacingAndGlyphs">V</tspan><tspan x="377.31" textLength="12.05" lengthAdjust="spacingAndGlyphs">2</tspan><tspan x="390.93" textLength="12.5" lengthAdjust="spacingAndGlyphs">0</tspan></text>
<line x1="473.83" y1="1145.2" x2="473.83" y2="1141.2" stroke="#000" stroke-width="1.4"/>
<text y="1165.9" font-size="22.61"><tspan x="453.03" textLength="14.44" lengthAdjust="spacingAndGlyphs">V</tspan><tspan x="468.03" textLength="12.05" lengthAdjust="spacingAndGlyphs">2</tspan><tspan x="481.92" textLength="11.8" lengthAdjust="spacingAndGlyphs">5</tspan></text>
<line x1="564.55" y1="1145.2" x2="564.55" y2="1141.2" stroke="#000" stroke-width="1.4"/>
<text y="1165.9" font-size="22.61"><tspan x="543.75" textLength="14.44" lengthAdjust="spacingAndGlyphs">V</tspan><tspan x="559.08" textLength="12.01" lengthAdjust="spacingAndGlyphs">3</tspan><tspan x="572.37" textLength="12.5" lengthAdjust="spacingAndGlyphs">0</tspan></text>
<line x1="655.27" y1="1145.2" x2="655.27" y2="1141.2" stroke="#000" stroke-width="1.4"/>
<text y="1165.9" font-size="22.61"><tspan x="634.47" textLength="14.44" lengthAdjust="spacingAndGlyphs">V</tspan><tspan x="649.8" textLength="12.01" lengthAdjust="spacingAndGlyphs">3</tspan><tspan x="663.36" textLength="11.8" lengthAdjust="spacingAndGlyphs">5</tspan></text>
<line x1="745.99" y1="1145.2" x2="745.99" y2="1141.2" stroke="#000" stroke-width="1.4"/>
<text y="1165.9" font-size="22.61"><tspan x="725.19" textLength="14.44" lengthAdjust="spacingAndGlyphs">V</tspan><tspan x="740.24" textLength="12.51" lengthAdjust="spacingAndGlyphs">4</tspan><tspan x="753.81" textLength="12.5" lengthAdjust="spacingAndGlyphs">0</tspan></text>
<line x1="836.71" y1="1145.2" x2="836.71" y2="1141.2" stroke="#000" stroke-width="1.4"/>
<text y="1165.9" font-size="22.61"><tspan x="815.91" textLength="14.44" lengthAdjust="spacingAndGlyphs">V</tspan><tspan x="830.96" textLength="12.51" lengthAdjust="spacingAndGlyphs">4</tspan><tspan x="844.8" textLength="11.8" lengthAdjust="spacingAndGlyphs">5</tspan></text>
<line x1="927.43" y1="1145.2" x2="927.43" y2="1141.2" stroke="#000" stroke-width="1.4"/>
<text y="1165.9" font-size="22.61"><tspan x="906.63" textLength="14.44" lengthAdjust="spacingAndGlyphs">V</tspan><tspan x="921.95" textLength="11.8" lengthAdjust="spacingAndGlyphs">5</tspan><tspan x="935.25" textLength="12.5" lengthAdjust="spacingAndGlyphs">0</tspan></text>
<text y="622.8" font-size="25.23"><tspan x="339.57" textLength="6.97" lengthAdjust="spacingAndGlyphs">I</tspan><tspan x="347.19" textLength="9.24" lengthAdjust="spacingAndGlyphs">r</tspan><tspan x="356.93" textLength="9.24" lengthAdjust="spacingAndGlyphs">r</tspan><tspan x="366.45" textLength="12.07" lengthAdjust="spacingAndGlyphs">a</tspan><tspan x="380.79" textLength="14.33" lengthAdjust="spacingAndGlyphs">d</tspan><tspan x="396.23" textLength="5.38" lengthAdjust="spacingAndGlyphs">i</tspan><tspan x="402.61" textLength="12.07" lengthAdjust="spacingAndGlyphs">a</tspan><tspan x="417.45" textLength="7.71" lengthAdjust="spacingAndGlyphs">t</tspan><tspan x="426.24" textLength="14.24" lengthAdjust="spacingAndGlyphs">e</tspan><tspan x="440.84" textLength="14.33" lengthAdjust="spacingAndGlyphs">d</tspan><tspan x="455.66"> </tspan><tspan x="463.85" textLength="11.36" lengthAdjust="spacingAndGlyphs">s</tspan><tspan x="475.9" textLength="22.5" lengthAdjust="spacingAndGlyphs">m</tspan><tspan x="499.04" textLength="12.07" lengthAdjust="spacingAndGlyphs">a</tspan><tspan x="513.77" textLength="5.38" lengthAdjust="spacingAndGlyphs">l</tspan><tspan x="520.35" textLength="5.38" lengthAdjust="spacingAndGlyphs">l</tspan><tspan x="526.34"> </tspan><tspan x="534.36" textLength="14.34" lengthAdjust="spacingAndGlyphs">b</tspan><tspan x="549.17" textLength="14.02" lengthAdjust="spacingAndGlyphs">o</tspan><tspan x="564.46" textLength="17.3" lengthAdjust="spacingAndGlyphs">w</tspan><tspan x="583.03" textLength="14.24" lengthAdjust="spacingAndGlyphs">e</tspan><tspan x="598" textLength="5.38" lengthAdjust="spacingAndGlyphs">l</tspan><tspan x="603.99"> </tspan><tspan x="612.14" textLength="12.79" lengthAdjust="spacingAndGlyphs">v</tspan><tspan x="625.8" textLength="14.02" lengthAdjust="spacingAndGlyphs">o</tspan><tspan x="640.66" textLength="5.38" lengthAdjust="spacingAndGlyphs">l</tspan><tspan x="647" textLength="14.21" lengthAdjust="spacingAndGlyphs">u</tspan><tspan x="662.03" textLength="22.5" lengthAdjust="spacingAndGlyphs">m</tspan><tspan x="684.98" textLength="14.24" lengthAdjust="spacingAndGlyphs">e</tspan></text>
<rect x="817.4" y="640.8" width="140.0" height="68.4" rx="4.5" fill="#fff" fill-opacity="0.8" stroke="#c4c4c4" stroke-opacity="0.85" stroke-width="1.3"/>
<line x1="824.9" y1="657.9" x2="869.2" y2="657.9" stroke="#2c7bb6" stroke-width="1.8"/>
<rect x="839" y="649.9" width="16" height="16" fill="#2c7bb6"/>
<line x1="824.9" y1="689.3" x2="869.2" y2="689.3" stroke="#d7191c" stroke-width="1.8"/>
<path d="M847 680.45L855.75 697.55L838.25 697.55Z" fill="#d7191c"/>
<text y="665.2" font-size="22.61"><tspan x="885.39" textLength="11.86" lengthAdjust="spacingAndGlyphs">3</tspan><tspan x="898.28" textLength="15.74" lengthAdjust="spacingAndGlyphs">D</tspan><tspan x="914.24" textLength="7.56" lengthAdjust="spacingAndGlyphs">-</tspan><tspan x="922.24" textLength="14.55" lengthAdjust="spacingAndGlyphs">R</tspan><tspan x="935.89" textLength="14.04" lengthAdjust="spacingAndGlyphs">T</tspan></text>
<text y="696.6" font-size="22.61"><tspan x="885.51" textLength="14.03" lengthAdjust="spacingAndGlyphs">V</tspan><tspan x="899.96" textLength="17.22" lengthAdjust="spacingAndGlyphs">M</tspan><tspan x="917.62" textLength="13.93" lengthAdjust="spacingAndGlyphs">A</tspan><tspan x="931.11" textLength="13.81" lengthAdjust="spacingAndGlyphs">T</tspan></text>
<text class="big"><tspan x="896.06" y="751.63" font-size="43.57" textLength="16.15" lengthAdjust="spacingAndGlyphs">(</tspan><tspan x="916.09" y="751.96" font-size="44.08" textLength="24.7" lengthAdjust="spacingAndGlyphs">b</tspan><tspan x="943.75" y="751.7" font-size="43.72" textLength="16.04" lengthAdjust="spacingAndGlyphs">)</tspan></text>
<text transform="translate(16.2 0) rotate(-90)" y="0" font-size="22.61"><tspan x="-1026.94" textLength="12.97" lengthAdjust="spacingAndGlyphs">S</tspan><tspan x="-1013.48" textLength="20.24" lengthAdjust="spacingAndGlyphs">m</tspan><tspan x="-992.63" textLength="10.81" lengthAdjust="spacingAndGlyphs">a</tspan><tspan x="-979.41" textLength="4.84" lengthAdjust="spacingAndGlyphs">l</tspan><tspan x="-973.48" textLength="4.84" lengthAdjust="spacingAndGlyphs">l</tspan><tspan x="-968.1"> </tspan><tspan x="-960.88" textLength="12.91" lengthAdjust="spacingAndGlyphs">b</tspan><tspan x="-947.55" textLength="12.61" lengthAdjust="spacingAndGlyphs">o</tspan><tspan x="-933.8" textLength="15.57" lengthAdjust="spacingAndGlyphs">w</tspan><tspan x="-917.08" textLength="12.81" lengthAdjust="spacingAndGlyphs">e</tspan><tspan x="-903.62" textLength="4.84" lengthAdjust="spacingAndGlyphs">l</tspan><tspan x="-898.23"> </tspan><tspan x="-890.9" textLength="11.51" lengthAdjust="spacingAndGlyphs">v</tspan><tspan x="-878.61" textLength="12.61" lengthAdjust="spacingAndGlyphs">o</tspan><tspan x="-865.24" textLength="4.84" lengthAdjust="spacingAndGlyphs">l</tspan><tspan x="-859.54" textLength="12.79" lengthAdjust="spacingAndGlyphs">u</tspan><tspan x="-846.01" textLength="20.24" lengthAdjust="spacingAndGlyphs">m</tspan><tspan x="-825.36" textLength="12.81" lengthAdjust="spacingAndGlyphs">e</tspan><tspan x="-812.43"> </tspan><tspan x="-805.65" textLength="7.19" lengthAdjust="spacingAndGlyphs">/</tspan><tspan x="-798.47"> </tspan><tspan x="-791.42" textLength="10.7" lengthAdjust="spacingAndGlyphs">c</tspan><tspan x="-779.69" textLength="10.7" lengthAdjust="spacingAndGlyphs">c</tspan><tspan x="-767.91" textLength="20.24" lengthAdjust="spacingAndGlyphs">m</tspan></text>
</svg>
</body></html>
